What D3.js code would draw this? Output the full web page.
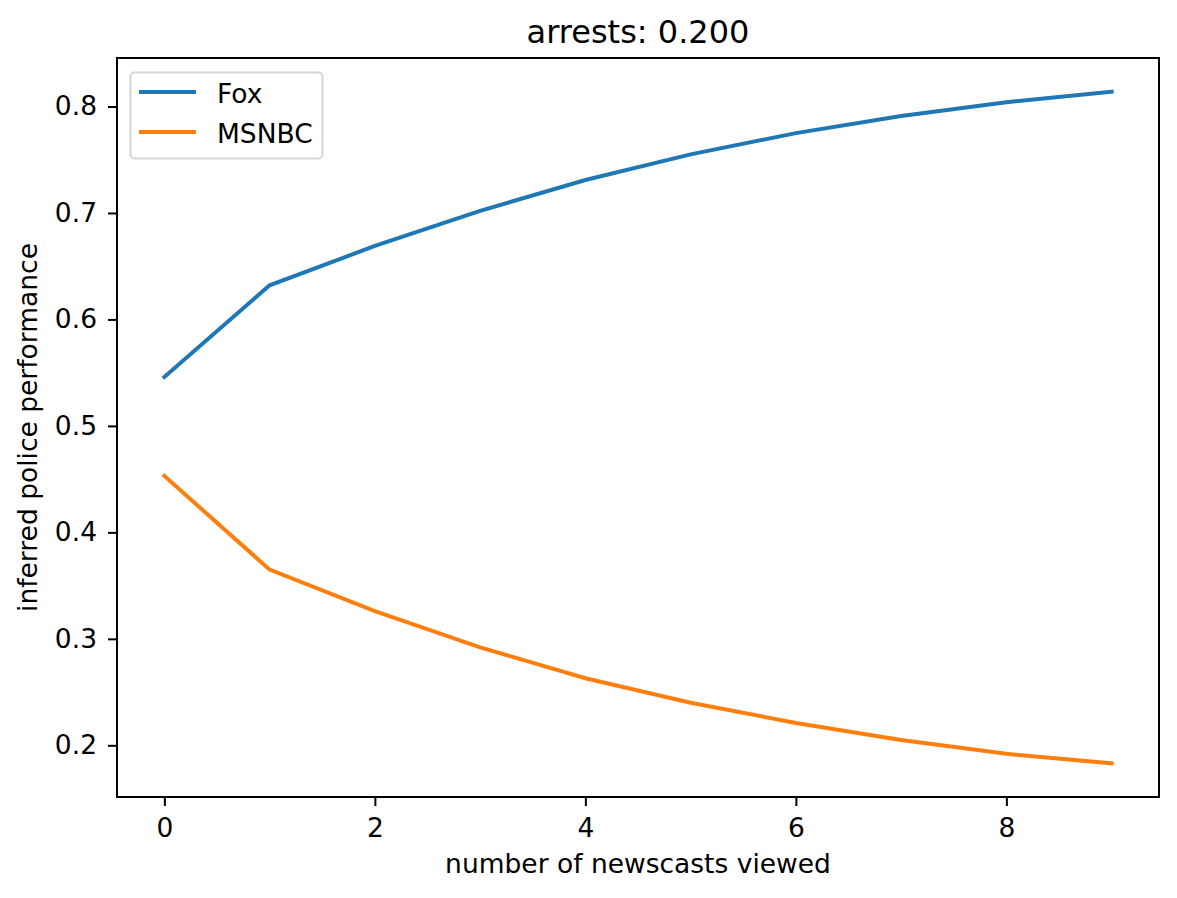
<!DOCTYPE html>
<html><head><meta charset="utf-8">
<script src="https://cdn.jsdelivr.net/npm/d3@7"></script>
<style>body{margin:0;background:#fff}svg{display:block}text{font-family:"DejaVu Sans",sans-serif;fill:#000}</style>
</head><body><svg id="c" width="1177" height="898"></svg>
<script>
const xValues = [0,1,2,3,4,5,6,7,8,9];
const foxValues = [0.546,0.632,0.669,0.702,0.731,0.755,0.775,0.791,0.804,0.814];
const msnbcValues = [0.453,0.365,0.326,0.292,0.263,0.240,0.221,0.205,0.192,0.183];
const seriesNames = ["Fox","MSNBC"];
const seriesColors = ["#1f77b4","#ff7f0e"];
const xTicks = [0,2,4,6,8];
const yTicks = [0.2,0.3,0.4,0.5,0.6,0.7,0.8];
const titleText = "arrests: 0.200";
const xLabel = "number of newscasts viewed";
const yLabel = "inferred police performance";

const svg = d3.select("#c");
const L=117,R=1159,T=58,B=797;
const x = d3.scaleLinear().domain([-0.45,9.45]).range([L,R]);
const allY = foxValues.concat(msnbcValues);
const ymin=d3.min(allY), ymax=d3.max(allY), pad=(ymax-ymin)*0.05;
const y = d3.scaleLinear().domain([ymin-pad,ymax+pad]).range([B,T]);
const fs = 26.5;

const xa = svg.append("g").attr("transform",`translate(0,${B})`)
  .call(d3.axisBottom(x).tickValues(xTicks).tickFormat(d3.format("d")).tickSize(9).tickPadding(12));
const ya = svg.append("g").attr("transform",`translate(${L},0)`)
  .call(d3.axisLeft(y).tickValues(yTicks).tickFormat(d3.format(".1f")).tickSize(9).tickPadding(11));
[xa,ya].forEach(a=>{a.select(".domain").remove();a.selectAll("line").attr("stroke","#000").attr("stroke-width",2);
  a.selectAll("text").attr("font-size",fs).attr("font-family","DejaVu Sans").attr("fill","#000");});

const line = d3.line().x((d,i)=>x(xValues[i])).y(d=>y(d));
[foxValues,msnbcValues].forEach((s,k)=>{
  svg.append("path").datum(s).attr("d",line).attr("fill","none")
    .attr("stroke",seriesColors[k]).attr("stroke-width",4).attr("stroke-linecap","square");
});

svg.append("rect").attr("x",L).attr("y",T).attr("width",R-L).attr("height",B-T)
  .attr("fill","none").attr("stroke","#000").attr("stroke-width",2);

svg.append("text").attr("x",(L+R)/2).attr("y",43).attr("text-anchor","middle").attr("font-size",32).text(titleText);
svg.append("text").attr("x",(L+R)/2).attr("y",873).attr("text-anchor","middle").attr("font-size",fs).text(xLabel);
svg.append("text").attr("transform",`translate(37,${(T+B)/2}) rotate(-90)`).attr("text-anchor","middle").attr("font-size",fs).text(yLabel);

const lg = svg.append("g");
lg.append("rect").attr("x",130.5).attr("y",72.5).attr("width",192).attr("height",86).attr("rx",4)
  .attr("fill","#fff").attr("fill-opacity",0.8).attr("stroke","#d6d6d6").attr("stroke-width",2);
seriesNames.forEach((n,k)=>{
  const yy = 92 + k*40;
  lg.append("line").attr("x1",139).attr("x2",196).attr("y1",yy).attr("y2",yy)
    .attr("stroke",seriesColors[k]).attr("stroke-width",4);
  lg.append("text").attr("x",217).attr("y",yy+10.5).attr("font-size",fs).text(n);
});
</script></body></html>
